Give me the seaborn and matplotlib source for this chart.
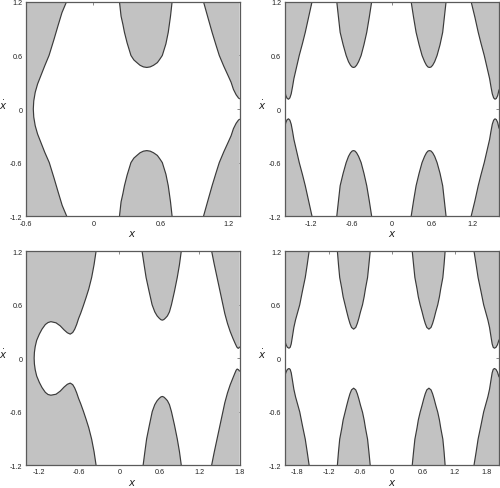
"""Forbidden regions (grey) of the phase plane (x, x-dot) for four parameter sets."""
import matplotlib

matplotlib.use("Agg")
import matplotlib.pyplot as plt
import seaborn as sns

# --------------------------------------------------------------------------- #
# Data: boundary curves of each grey region
# --------------------------------------------------------------------------- #
YTICKS = [-1.2, -0.6, 0, 0.6, 1.2]

# panel (a) top left
A_XLIM = (-0.6, 1.3)
A_XTICKS = [-0.6, 0, 0.6, 1.2]
A_LEFT_X = [-0.240, -0.280, -0.316, -0.351, -0.395, -0.433, -0.468, -0.497, -0.518, -0.531, -0.535,
            -0.531, -0.518, -0.497, -0.468, -0.433, -0.393, -0.349, -0.314, -0.278, -0.238]
A_LEFT_Y = [1.20, 1.08, 0.93, 0.78, 0.60, 0.485, 0.373, 0.28, 0.187, 0.09, 0.0,
            -0.09, -0.187, -0.28, -0.373, -0.485, -0.60, -0.78, -0.93, -1.08, -1.20]
A_TOP_X = [0.232, 0.246, 0.262, 0.276, 0.300, 0.334, 0.360, 0.387, 0.415, 0.445, 0.475,
           0.505, 0.535, 0.569, 0.592, 0.613, 0.645, 0.666, 0.686, 0.700]
A_TOP_Y = [1.20, 1.04, 0.95, 0.86, 0.74, 0.60, 0.55, 0.52, 0.49, 0.472, 0.466,
           0.472, 0.49, 0.52, 0.56, 0.60, 0.73, 0.86, 1.04, 1.20]
A_BOT_X = [0.232, 0.246, 0.262, 0.276, 0.300, 0.334, 0.360, 0.387, 0.415, 0.445, 0.475,
           0.505, 0.535, 0.569, 0.592, 0.613, 0.645, 0.666, 0.686, 0.700]
A_BOT_Y = [-1.20, -1.04, -0.95, -0.86, -0.74, -0.60, -0.55, -0.52, -0.49, -0.472, -0.466,
           -0.472, -0.49, -0.52, -0.56, -0.60, -0.73, -0.86, -1.04, -1.20]
A_RUP_X = [0.980, 1.020, 1.056, 1.090, 1.120, 1.160, 1.200, 1.225, 1.246, 1.270, 1.290, 1.300]
A_RUP_Y = [1.20, 1.02, 0.86, 0.72, 0.60, 0.48, 0.37, 0.30, 0.22, 0.16, 0.125, 0.115]
A_RDN_X = [0.980, 1.020, 1.056, 1.090, 1.120, 1.160, 1.200, 1.225, 1.246, 1.270, 1.290, 1.300]
A_RDN_Y = [-1.20, -1.02, -0.86, -0.72, -0.60, -0.48, -0.37, -0.30, -0.22, -0.16, -0.125, -0.115]

# panel (b) top right
B_XLIM = (-1.6, 1.6)
B_XTICKS = [-1.2, -0.6, 0, 0.6, 1.2]
B_LUP_X = [-1.600, -1.580, -1.560, -1.540, -1.520, -1.500, -1.480, -1.460, -1.420, -1.380, -1.330,
           -1.290, -1.240, -1.190]
B_LUP_Y = [0.215, 0.150, 0.118, 0.110, 0.125, 0.170, 0.250, 0.340, 0.470, 0.600, 0.740,
           0.860, 1.030, 1.200]
B_LDN_X = [-1.600, -1.580, -1.560, -1.540, -1.520, -1.500, -1.480, -1.460, -1.420, -1.380, -1.330,
           -1.290, -1.240, -1.190]
B_LDN_Y = [-0.215, -0.150, -0.118, -0.110, -0.125, -0.170, -0.250, -0.340, -0.470, -0.600, -0.740,
           -0.860, -1.030, -1.200]
B_M1UP_X = [-0.820, -0.795, -0.770, -0.725, -0.680, -0.645, -0.615, -0.590, -0.570,
            -0.550, -0.525, -0.495, -0.457, -0.415, -0.373, -0.335, -0.300]
B_M1UP_Y = [1.20, 1.03, 0.86, 0.72, 0.60, 0.53, 0.49, 0.47, 0.466,
            0.47, 0.49, 0.53, 0.60, 0.72, 0.86, 1.03, 1.20]
B_M1DN_X = [-0.820, -0.795, -0.770, -0.725, -0.680, -0.645, -0.615, -0.590, -0.570,
            -0.550, -0.525, -0.495, -0.457, -0.415, -0.373, -0.335, -0.300]
B_M1DN_Y = [-1.20, -1.03, -0.86, -0.72, -0.60, -0.53, -0.49, -0.47, -0.466,
            -0.47, -0.49, -0.53, -0.60, -0.72, -0.86, -1.03, -1.20]
B_M2UP_X = [0.290, 0.325, 0.363, 0.408, 0.452, 0.490, 0.518, 0.542, 0.563,
            0.585, 0.610, 0.640, 0.676, 0.720, 0.760, 0.785, 0.810]
B_M2UP_Y = [1.20, 1.03, 0.86, 0.72, 0.60, 0.53, 0.49, 0.47, 0.466,
            0.47, 0.49, 0.53, 0.60, 0.72, 0.86, 1.03, 1.20]
B_M2DN_X = [0.290, 0.325, 0.363, 0.408, 0.452, 0.490, 0.518, 0.542, 0.563,
            0.585, 0.610, 0.640, 0.676, 0.720, 0.760, 0.785, 0.810]
B_M2DN_Y = [-1.20, -1.03, -0.86, -0.72, -0.60, -0.53, -0.49, -0.47, -0.466,
            -0.47, -0.49, -0.53, -0.60, -0.72, -0.86, -1.03, -1.20]
B_RUP_X = [1.185, 1.240, 1.290, 1.330, 1.380, 1.420, 1.460, 1.480, 1.500, 1.520, 1.540,
           1.560, 1.580, 1.600]
B_RUP_Y = [1.200, 1.030, 0.860, 0.740, 0.600, 0.470, 0.340, 0.250, 0.170, 0.125, 0.110,
           0.118, 0.150, 0.215]
B_RDN_X = [1.185, 1.240, 1.290, 1.330, 1.380, 1.420, 1.460, 1.480, 1.500, 1.520, 1.540,
           1.560, 1.580, 1.600]
B_RDN_Y = [-1.200, -1.030, -0.860, -0.740, -0.600, -0.470, -0.340, -0.250, -0.170, -0.125, -0.110,
           -0.118, -0.150, -0.215]

# panel (c) bottom left
C_XLIM = (-1.4, 1.8)
C_XTICKS = [-1.2, -0.6, 0, 0.6, 1.2, 1.8]
C_LEFT_X = [-0.350, -0.380, -0.416, -0.460, -0.500, -0.540, -0.580, -0.612, -0.640, -0.670, -0.700,
            -0.737, -0.780, -0.830, -0.887, -0.950, -1.027, -1.070, -1.110, -1.160, -1.200, -1.240,
            -1.262, -1.274, -1.278,
            -1.274, -1.262, -1.240, -1.200, -1.160, -1.110, -1.070, -1.027, -0.950, -0.887, -0.830,
            -0.780, -0.737, -0.700, -0.670, -0.640, -0.612, -0.580, -0.540, -0.500, -0.460, -0.416,
            -0.380, -0.350]
C_LEFT_Y = [1.200, 1.050, 0.906, 0.775, 0.680, 0.590, 0.505, 0.445, 0.380, 0.325, 0.288,
            0.270, 0.285, 0.318, 0.363, 0.397, 0.410, 0.400, 0.378, 0.326, 0.270, 0.200,
            0.130, 0.065, 0.000,
            -0.065, -0.130, -0.200, -0.272, -0.330, -0.384, -0.408, -0.416, -0.405, -0.370, -0.325,
            -0.293, -0.280, -0.297, -0.335, -0.390, -0.452, -0.512, -0.595, -0.685, -0.780, -0.910,
            -1.050, -1.200]
C_TOP_X = [0.340, 0.370, 0.400, 0.445, 0.490, 0.530, 0.565, 0.595, 0.620, 0.642,
           0.665, 0.690, 0.720, 0.750, 0.780, 0.825, 0.867, 0.900, 0.927]
C_TOP_Y = [1.20, 1.05, 0.906, 0.75, 0.60, 0.52, 0.475, 0.45, 0.433, 0.427,
           0.433, 0.45, 0.475, 0.52, 0.60, 0.75, 0.906, 1.05, 1.20]
C_BOT_X = [0.356, 0.382, 0.408, 0.450, 0.492, 0.530, 0.565, 0.595, 0.620, 0.642,
           0.665, 0.690, 0.720, 0.750, 0.780, 0.825, 0.867, 0.900, 0.927]
C_BOT_Y = [-1.20, -1.05, -0.906, -0.75, -0.60, -0.522, -0.478, -0.453, -0.436, -0.430,
           -0.436, -0.453, -0.478, -0.522, -0.60, -0.75, -0.906, -1.05, -1.20]
C_RUP_X = [1.383, 1.420, 1.460, 1.500, 1.540, 1.580, 1.620, 1.660, 1.700, 1.735, 1.760, 1.780, 1.795, 1.800]
C_RUP_Y = [1.20, 1.06, 0.92, 0.78, 0.64, 0.50, 0.39, 0.30, 0.225, 0.165, 0.125, 0.110, 0.118, 0.125]
C_RDN_X = [1.383, 1.420, 1.460, 1.500, 1.540, 1.580, 1.620, 1.660, 1.700, 1.730, 1.750, 1.765, 1.785, 1.800]
C_RDN_Y = [-1.20, -1.06, -0.92, -0.78, -0.64, -0.50, -0.39, -0.30, -0.225, -0.170, -0.135, -0.122, -0.130, -0.145]

# panel (d) bottom right
D_XLIM = (-2.04, 2.04)
D_XTICKS = [-1.8, -1.2, -0.6, 0, 0.6, 1.2, 1.8]
D_LUP_X = [-2.040, -2.010, -1.985, -1.955, -1.932, -1.912, -1.890, -1.862, -1.830, -1.790, -1.750,
           -1.700, -1.645, -1.608, -1.572]
D_LUP_Y = [0.205, 0.150, 0.122, 0.112, 0.122, 0.160, 0.240, 0.345, 0.430, 0.515, 0.600,
           0.750, 0.906, 1.050, 1.200]
D_LDN_X = [-2.040, -2.010, -1.985, -1.955, -1.932, -1.912, -1.890, -1.862, -1.830, -1.790, -1.750,
           -1.700, -1.645, -1.608, -1.572]
D_LDN_Y = [-0.210, -0.155, -0.126, -0.116, -0.126, -0.164, -0.244, -0.349, -0.434, -0.519, -0.604,
           -0.754, -0.910, -1.054, -1.200]
D_M1UP_X = [-1.034, -1.013, -0.990, -0.950, -0.925, -0.888, -0.855, -0.825, -0.795, -0.765, -0.725,
            -0.685, -0.655, -0.625, -0.595, -0.556, -0.525, -0.500, -0.460, -0.435, -0.410]
D_M1UP_Y = [1.200, 1.050, 0.906, 0.780, 0.690, 0.600, 0.520, 0.450, 0.390, 0.345, 0.326,
            0.345, 0.390, 0.450, 0.520, 0.600, 0.690, 0.780, 0.906, 1.050, 1.200]
D_M1DN_X = [-1.034, -1.013, -0.990, -0.950, -0.925, -0.888, -0.855, -0.825, -0.795, -0.765, -0.725,
            -0.685, -0.655, -0.625, -0.595, -0.556, -0.525, -0.500, -0.460, -0.435, -0.410]
D_M1DN_Y = [-1.200, -1.050, -0.910, -0.785, -0.695, -0.607, -0.528, -0.460, -0.400, -0.356, -0.337,
            -0.356, -0.400, -0.460, -0.528, -0.607, -0.695, -0.785, -0.910, -1.050, -1.200]
D_M2UP_X = [0.390, 0.415, 0.440, 0.480, 0.505, 0.540, 0.577, 0.607, 0.637, 0.667, 0.707,
            0.747, 0.777, 0.807, 0.837, 0.875, 0.907, 0.932, 0.972, 0.995, 1.015]
D_M2UP_Y = [1.200, 1.050, 0.906, 0.780, 0.690, 0.600, 0.520, 0.450, 0.390, 0.345, 0.326,
            0.345, 0.390, 0.450, 0.520, 0.600, 0.690, 0.780, 0.906, 1.050, 1.200]
D_M2DN_X = [0.390, 0.415, 0.440, 0.480, 0.505, 0.540, 0.577, 0.607, 0.637, 0.667, 0.707,
            0.747, 0.777, 0.807, 0.837, 0.875, 0.907, 0.932, 0.972, 0.995, 1.015]
D_M2DN_Y = [-1.200, -1.050, -0.910, -0.785, -0.695, -0.607, -0.528, -0.460, -0.400, -0.356, -0.337,
            -0.356, -0.400, -0.460, -0.528, -0.607, -0.695, -0.785, -0.910, -1.050, -1.200]
D_RUP_X = [1.565, 1.605, 1.642, 1.697, 1.748, 1.788, 1.828, 1.860, 1.888, 1.910, 1.930, 1.953,
           1.983, 2.010, 2.040]
D_RUP_Y = [1.200, 1.050, 0.906, 0.750, 0.600, 0.515, 0.430, 0.345, 0.240, 0.160, 0.122, 0.112,
           0.122, 0.150, 0.205]
D_RDN_X = [1.565, 1.605, 1.642, 1.697, 1.748, 1.788, 1.828, 1.860, 1.888, 1.910, 1.930, 1.953,
           1.983, 2.010, 2.040]
D_RDN_Y = [-1.200, -1.054, -0.910, -0.754, -0.604, -0.519, -0.434, -0.349, -0.244, -0.164, -0.126,
           -0.116, -0.126, -0.155, -0.210]

# (xs, ys, side the region is closed against: None = self-closing at top/bottom edge)
PANELS = [
    (A_XLIM, A_XTICKS, [(A_LEFT_X, A_LEFT_Y, "left"), (A_TOP_X, A_TOP_Y, None), (A_BOT_X, A_BOT_Y, None),
                        (A_RUP_X, A_RUP_Y, "right"), (A_RDN_X, A_RDN_Y, "right")]),
    (B_XLIM, B_XTICKS, [(B_LUP_X, B_LUP_Y, "left"), (B_LDN_X, B_LDN_Y, "left"),
                        (B_M1UP_X, B_M1UP_Y, None), (B_M1DN_X, B_M1DN_Y, None),
                        (B_M2UP_X, B_M2UP_Y, None), (B_M2DN_X, B_M2DN_Y, None),
                        (B_RUP_X, B_RUP_Y, "right"), (B_RDN_X, B_RDN_Y, "right")]),
    (C_XLIM, C_XTICKS, [(C_LEFT_X, C_LEFT_Y, "left"), (C_TOP_X, C_TOP_Y, None), (C_BOT_X, C_BOT_Y, None),
                        (C_RUP_X, C_RUP_Y, "right"), (C_RDN_X, C_RDN_Y, "right")]),
    (D_XLIM, D_XTICKS, [(D_LUP_X, D_LUP_Y, "left"), (D_LDN_X, D_LDN_Y, "left"),
                        (D_M1UP_X, D_M1UP_Y, None), (D_M1DN_X, D_M1DN_Y, None),
                        (D_M2UP_X, D_M2UP_Y, None), (D_M2DN_X, D_M2DN_Y, None),
                        (D_RUP_X, D_RUP_Y, "right"), (D_RDN_X, D_RDN_Y, "right")]),
]

# --------------------------------------------------------------------------- #
# Style
# --------------------------------------------------------------------------- #
FILL = "#c2c2c2"
EDGE = "#3a3a3a"
FRAME = "#5a5a5a"

sns.set_theme(style="white")
plt.rcParams["font.family"] = ["Liberation Sans", "DejaVu Sans"]
plt.rcParams["mathtext.fontset"] = "dejavusans"
plt.rcParams["axes.unicode_minus"] = False

# axes boxes in figure fractions: left, bottom, width, height
BOXES = [
    (0.052, 0.556, 0.427, 0.438),
    (0.569, 0.556, 0.429, 0.438),
    (0.052, 0.047, 0.427, 0.437),
    (0.569, 0.047, 0.429, 0.437),
]


def draw_region(ax, xs, ys, side, xlim):
    """Fill one grey region and trace its boundary."""
    px, py = list(xs), list(ys)
    if side == "left":
        px += [xlim[0], xlim[0]]
        py += [ys[-1], ys[0]]
    elif side == "right":
        px += [xlim[1], xlim[1]]
        py += [ys[-1], ys[0]]
    ax.fill(px, py, color=FILL, lw=0, zorder=1)
    sns.lineplot(x=xs, y=ys, sort=False, estimator=None, color=EDGE, lw=0.85, ax=ax, zorder=2)


fig = plt.figure(figsize=(5.0, 4.89), dpi=100)
for box, (xlim, xticks, regions) in zip(BOXES, PANELS):
    ax = fig.add_axes(box)
    for xs, ys, side in regions:
        draw_region(ax, xs, ys, side, xlim)

    ax.set_xlim(*xlim)
    ax.set_ylim(-1.2, 1.2)
    ax.set_xticks(xticks, [f"{v:g}" for v in xticks])
    ax.set_yticks(YTICKS, [f"{v:g}" for v in YTICKS])
    ax.tick_params(direction="in", length=2.5, width=0.5, color=FRAME, labelsize=5.2,
                   labelcolor="#222222", top=True, right=True, pad=2.5)
    for s in ax.spines.values():
        s.set_color(FRAME)
        s.set_linewidth(0.9)
        s.set_zorder(3)
    ax.set_xlabel("$x$", fontsize=7.5, color="#222222")
    ax.set_ylabel(r"$\dot{x}$", fontsize=7.5, color="#222222", rotation=0)
    ax.xaxis.set_label_coords(0.5, -0.055)
    ax.yaxis.set_label_coords(-0.105, 0.49)

fig.savefig("out.png", dpi=100)
plt.close(fig)
